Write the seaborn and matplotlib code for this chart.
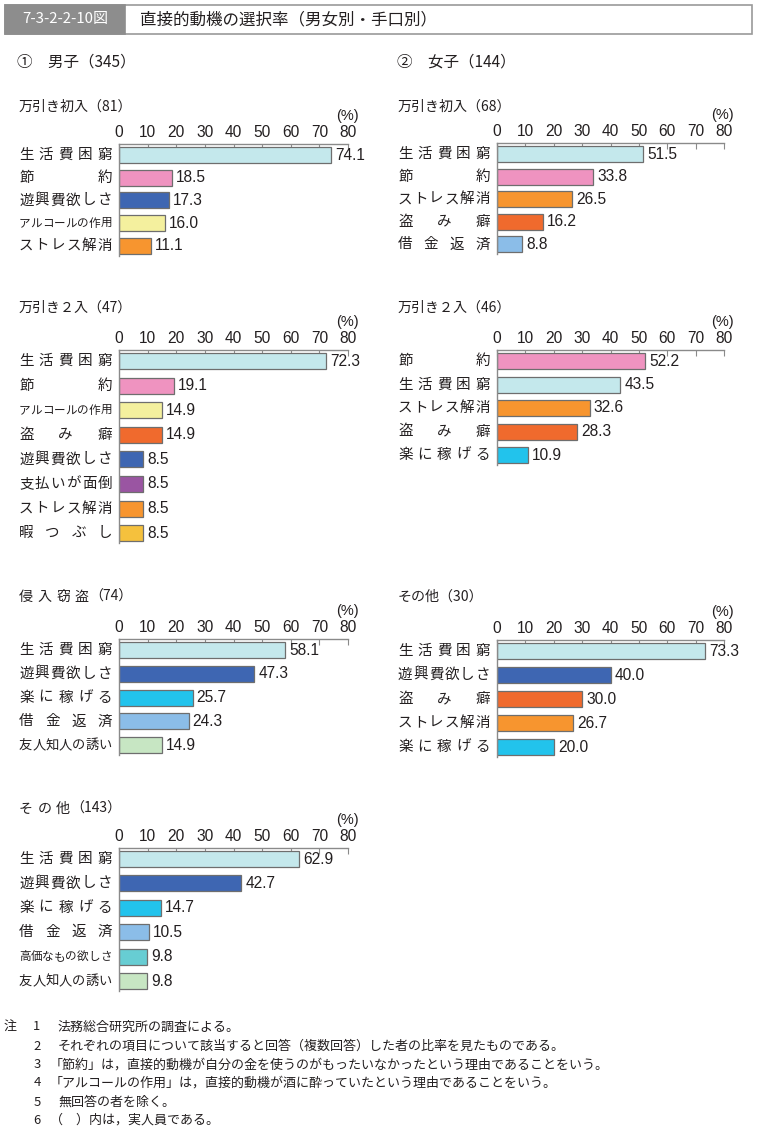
"""
直接的動機の選択率（男女別・手口別） - 7-3-2-2-10図
"""

import numpy as np
import pandas as pd
import matplotlib
matplotlib.use("Agg")
import matplotlib.pyplot as plt
import matplotlib.transforms as mtransforms
from matplotlib.patches import Rectangle
import seaborn as sns

W, H = 759, 1131

# ---- data -------------------------------------------------------------
male_shoplift1_labels = ["生活費困窮", "節約", "遊興費欲しさ", "アルコールの作用", "ストレス解消"]
male_shoplift1_values = [74.1, 18.5, 17.3, 16.0, 11.1]

male_shoplift2_labels = ["生活費困窮", "節約", "アルコールの作用", "盗み癖",
                         "遊興費欲しさ", "支払いが面倒", "ストレス解消", "暇つぶし"]
male_shoplift2_values = [72.3, 19.1, 14.9, 14.9, 8.5, 8.5, 8.5, 8.5]

male_burglary_labels = ["生活費困窮", "遊興費欲しさ", "楽に稼げる", "借金返済", "友人知人の誘い"]
male_burglary_values = [58.1, 47.3, 25.7, 24.3, 14.9]

male_other_labels = ["生活費困窮", "遊興費欲しさ", "楽に稼げる", "借金返済",
                     "高価なもの欲しさ", "友人知人の誘い"]
male_other_values = [62.9, 42.7, 14.7, 10.5, 9.8, 9.8]

female_shoplift1_labels = ["生活費困窮", "節約", "ストレス解消", "盗み癖", "借金返済"]
female_shoplift1_values = [51.5, 33.8, 26.5, 16.2, 8.8]

female_shoplift2_labels = ["節約", "生活費困窮", "ストレス解消", "盗み癖", "楽に稼げる"]
female_shoplift2_values = [52.2, 43.5, 32.6, 28.3, 10.9]

female_other_labels = ["生活費困窮", "遊興費欲しさ", "盗み癖", "ストレス解消", "楽に稼げる"]
female_other_values = [73.3, 40.0, 30.0, 26.7, 20.0]

x_ticks = [0, 10, 20, 30, 40, 50, 60, 70, 80]

notes = [
    ("注", "1", "法務総合研究所の調査による。"),
    ("", "2", "それぞれの項目について該当すると回答（複数回答）した者の比率を見たものである。"),
    ("", "3", "「節約」は，直接的動機が自分の金を使うのがもったいなかったという理由であることをいう。"),
    ("", "4", "「アルコールの作用」は，直接的動機が酒に酔っていたという理由であることをいう。"),
    ("", "5", "無回答の者を除く。"),
    ("", "6", "（　）内は，実人員である。"),
]

COLORS = {
    "生活費困窮": "#c4e8ec",
    "節約": "#ef93c0",
    "遊興費欲しさ": "#3e66b2",
    "アルコールの作用": "#f4f09e",
    "ストレス解消": "#f7952f",
    "盗み癖": "#f06a2d",
    "借金返済": "#8bbde8",
    "支払いが面倒": "#9a55a2",
    "暇つぶし": "#f5c13d",
    "楽に稼げる": "#22c3ec",
    "友人知人の誘い": "#c7e6c3",
    "高価なもの欲しさ": "#67cdd3",
}

TEXT = "#231f20"
GRAY = "#8a8a8a"
NUM_FONT = ["Liberation Sans", "DejaVu Sans"]

# ---- style ------------------------------------------------------------
sns.set_theme(style="white")
plt.rcParams["font.family"] = ["Noto Sans CJK JP", "DejaVu Sans"]

fig = plt.figure(figsize=(W / 100, H / 100), dpi=100)


def px(x, y):
    """pixel coords (from top-left) -> figure fraction"""
    return x / W, 1 - y / H


def pt(size_px):
    return size_px * 0.72


# column geometry: axis x-range, category-label x-range, title x, (%) x
COLS = {
    "L": dict(ax0=119, ax1=348, lab0=19, lab1=112, title_x=19, pct_x=347),
    "R": dict(ax0=497, ax1=724, lab0=398, lab1=490, title_x=398, pct_x=722),
}

# (column, spaced title part, rest of title, title y, top spine y, bar step, labels, values)
panels = [
    ("L", "", "万引き初入（81）", 107, 144, 22.7, male_shoplift1_labels, male_shoplift1_values),
    ("L", "", "万引き２入（47）", 308, 350, 24.6, male_shoplift2_labels, male_shoplift2_values),
    ("L", "侵入窃盗", "（74）", 597, 639, 23.8, male_burglary_labels, male_burglary_values),
    ("L", "その他", "（143）", 809, 848, 24.4, male_other_labels, male_other_values),
    ("R", "", "万引き初入（68）", 107, 143, 22.6, female_shoplift1_labels, female_shoplift1_values),
    ("R", "", "万引き２入（46）", 308, 350, 23.5, female_shoplift2_labels, female_shoplift2_values),
    ("R", "", "その他（30）", 597, 640, 24.0, female_other_labels, female_other_values),
]

BAR_PX = 16      # bar thickness in pixels
TOP_GAP = 11     # top spine -> first bar centre
BOT_GAP = 10     # last bar centre -> end of left spine
TITLE_PX = 14


def draw_category_label(ax, label, yval, left, right):
    """spread the characters of a label evenly across the label column"""
    n = len(label)
    fs = min(14.5, (right - left) / n)
    trans = mtransforms.blended_transform_factory(fig.transFigure, ax.transData)
    if n == 1:
        centers = [right - fs / 2]
    else:
        centers = np.linspace(left + fs / 2, right - fs / 2, n)
    for ch, cx in zip(label, centers):
        ax.text(cx / W, yval, ch, transform=trans, ha="center", va="center",
                fontsize=pt(fs), color=TEXT, clip_on=False)


for col, spaced, title, title_y, top, step, labels, values in panels:
    g = COLS[col]
    n = len(labels)
    height = TOP_GAP + (n - 1) * step + BOT_GAP
    x0, y0 = px(g["ax0"], top + height)
    ax = fig.add_axes([x0, y0, (g["ax1"] - g["ax0"]) / W, height / H])

    df = pd.DataFrame({"motive": labels, "rate": values})
    sns.barplot(data=df, x="rate", y="motive", hue="motive", orient="h",
                palette={lab: COLORS[lab] for lab in labels}, saturation=1,
                width=BAR_PX / step, edgecolor="#6e6e6e", linewidth=0.9,
                errorbar=None, legend=False, ax=ax)

    ax.set_xlim(0, 80)
    ax.set_ylim(n - 1 + BOT_GAP / step, -TOP_GAP / step)
    ax.set_xlabel("")
    ax.set_ylabel("")

    ax.xaxis.tick_top()
    ax.set_xticks(x_ticks)
    ax.tick_params(axis="x", direction="in", length=4, width=0.8, color=GRAY,
                   pad=3, labelsize=pt(15.5), labelcolor=TEXT,
                   labelfontfamily="Liberation Sans")
    ax.set_yticks(range(n))
    ax.set_yticklabels([""] * n)
    ax.tick_params(axis="y", length=0)

    for side in ("right", "bottom"):
        ax.spines[side].set_visible(False)
    for side in ("top", "left"):
        ax.spines[side].set_color(GRAY)
        ax.spines[side].set_linewidth(1.0)

    for cont in ax.containers:
        ax.bar_label(cont, fmt="%.1f", padding=3, fontsize=pt(15.5),
                     color=TEXT, fontfamily=NUM_FONT)

    for i, lab in enumerate(labels):
        draw_category_label(ax, lab, i, g["lab0"], g["lab1"])

    # panel title, optionally letter-spaced head
    tx = g["title_x"]
    for ch in spaced:
        fx, fy = px(tx, title_y)
        fig.text(fx, fy, ch, ha="left", va="center", fontsize=pt(TITLE_PX), color=TEXT)
        tx += 18.5
    fx, fy = px(tx - (4 if spaced else 0), title_y)
    fig.text(fx, fy, title, ha="left", va="center", fontsize=pt(TITLE_PX), color=TEXT)

    fx, fy = px(g["pct_x"], top - 28)
    fig.text(fx, fy, "(%)", ha="center", va="center", fontsize=pt(14.5),
             color=TEXT, family=NUM_FONT)

# ---- section headers ---------------------------------------------------
fx, fy = px(17, 62)
fig.text(fx, fy, "①\u3000男子（345）", ha="left", va="center", fontsize=pt(15.5), color=TEXT)
fx, fy = px(397, 62)
fig.text(fx, fy, "②\u3000女子（144）", ha="left", va="center", fontsize=pt(15.5), color=TEXT)

# ---- title bar --------------------------------------------------------
bx, by = px(5, 34)
fig.patches.append(Rectangle((bx, by), (752 - 5) / W, 29 / H, transform=fig.transFigure,
                             facecolor="white", edgecolor="#9a9a9a", linewidth=1.2))
fig.patches.append(Rectangle((bx, by), (125 - 5) / W, 29 / H, transform=fig.transFigure,
                             facecolor="#8d8d8d", edgecolor="#8d8d8d", linewidth=1.2))
fx, fy = px(65, 19.5)
fig.text(fx, fy, "7-3-2-2-10図", ha="center", va="center", fontsize=pt(15), color="white")
fx, fy = px(140, 19.5)
fig.text(fx, fy, "直接的動機の選択率（男女別・手口別）", ha="left", va="center",
         fontsize=pt(16.5), color=TEXT)

# ---- notes ------------------------------------------------------------
note_y = [1027, 1046, 1065, 1083, 1102, 1120]
for (head, num, body), y in zip(notes, note_y):
    if head:
        fx, fy = px(10, y)
        fig.text(fx, fy, head, ha="center", va="center", fontsize=pt(13), color=TEXT)
    fx, fy = px(37, y)
    fig.text(fx, fy, num, ha="center", va="center", fontsize=pt(13), color=TEXT)
    start = 50 if body[0] in "「（" else 58
    fx, fy = px(start, y)
    fig.text(fx, fy, body, ha="left", va="center", fontsize=pt(13), color=TEXT)

fig.savefig("out.png", dpi=100, facecolor="white")
